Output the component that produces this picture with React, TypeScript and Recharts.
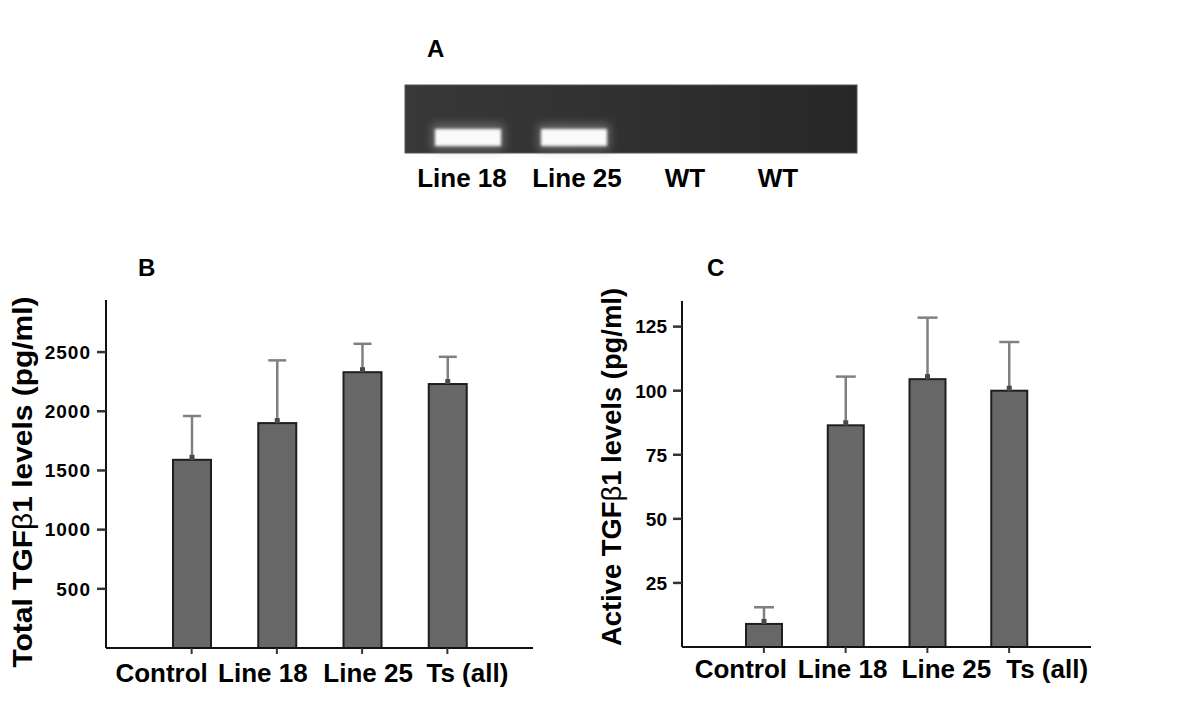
import { Bar, BarChart, XAxis, YAxis } from "recharts";

const FONT = '"Liberation Sans", Arial, Helvetica, sans-serif';

// groups shared by panels B and C
const groups = ["Control", "Line 18", "Line 25", "Ts (all)"];
const totalMean = [1590, 1900, 2330, 2230];
const totalSem = [370, 530, 240, 230];
const totalTicks = [500, 1000, 1500, 2000, 2500];
const activeMean = [9, 86.5, 104.5, 100];
const activeSem = [6.5, 19, 24, 19];
const activeTicks = [25, 50, 75, 100, 125];

// panel A gel
const gelLanes = ["Line 18", "Line 25", "WT", "WT"];
const gelSignal = [1, 1, 0, 0];

const totalData = groups.map((g, i) => ({ group: g, mean: totalMean[i], sem: totalSem[i] }));
const activeData = groups.map((g, i) => ({ group: g, mean: activeMean[i], sem: activeSem[i] }));

function BarWithError(props: any) {
  const { x, y, width, height, payload, capHalf } = props;
  const px = height / payload.mean;
  const top = y - payload.sem * px;
  const cx = x + width / 2;
  return (
    <g>
      <rect x={x} y={y} width={width} height={height} fill="#676767" stroke="#1e1e1e" strokeWidth={2} />
      <line x1={cx} x2={cx} y1={y} y2={top} stroke="#808080" strokeWidth={2.5} />
      <line x1={cx - capHalf} x2={cx + capHalf} y1={top} y2={top} stroke="#808080" strokeWidth={2.5} />
      <rect x={cx - 2.5} y={y - 5} width={5} height={5} fill="#4a4a4a" />
    </g>
  );
}

function XTick(props: any) {
  const { x, y, payload, index, shifts, dy } = props;
  return (
    <text x={x + shifts[index]} y={y + dy} textAnchor="middle" fontFamily={FONT} fontWeight="bold" fontSize={26} fill="#000">
      {payload.value}
    </text>
  );
}

function YTick(props: any) {
  const { x, y, payload, spacing, labelSize } = props;
  return (
    <text
      x={x}
      y={y}
      dy="0.36em"
      textAnchor="end"
      fill="#000"
      style={{ fontFamily: FONT, fontWeight: 700, fontSize: labelSize, letterSpacing: spacing }}
    >
      {payload.value}
    </text>
  );
}

function Panel(props: any) {
  const { data, domain, ticks, left, top, width, height, margin, yWidth, pad, barSize, capHalf, shifts, dy, spacing, tickFont } = props;
  return (
    <div style={{ position: "absolute", left, top }}>
      <BarChart width={width} height={height} data={data} margin={margin}>
        <XAxis
          dataKey="group"
          padding={pad}
          height={50}
          axisLine={{ stroke: "#111", strokeWidth: 2 }}
          tickLine={{ stroke: "#333", strokeWidth: 2 }}
          tickSize={6}
          tick={<XTick shifts={shifts} dy={dy} />}
          interval={0}
        />
        <XAxis xAxisId="top" orientation="top" dataKey="group" padding={pad} height={0} tick={false} tickLine={false} axisLine={{ stroke: "#444", strokeWidth: 1.5 }} />
        <YAxis
          domain={domain}
          ticks={ticks}
          width={yWidth}
          allowDataOverflow
          axisLine={{ stroke: "#111", strokeWidth: 2 }}
          tickLine={{ stroke: "#333", strokeWidth: 2.5 }}
          tickSize={9}
          tickMargin={6}
          tick={<YTick spacing={spacing} labelSize={tickFont} />}
        />
        <YAxis yAxisId="right" orientation="right" domain={domain} width={0} tick={false} tickLine={false} axisLine={{ stroke: "#8a8a8a", strokeWidth: 3 }} />
        <Bar dataKey="mean" barSize={barSize} isAnimationActive={false} shape={(p: any) => <BarWithError {...p} capHalf={capHalf} />} />
      </BarChart>
    </div>
  );
}

function Gel() {
  const laneX = [468, 574, 0, 0];
  return (
    <g>
      <defs>
        <linearGradient id="gelbg" x1="0" x2="1" y1="0" y2="0">
          <stop offset="0" stopColor="#383838" />
          <stop offset="0.5" stopColor="#303030" />
          <stop offset="1" stopColor="#272727" />
        </linearGradient>
        <filter id="soft" x="-30%" y="-80%" width="160%" height="260%">
          <feGaussianBlur stdDeviation="1.5" />
        </filter>
        <filter id="glow" x="-30%" y="-80%" width="160%" height="260%">
          <feGaussianBlur stdDeviation="5" />
        </filter>
      </defs>
      <rect x={405} y={85} width={452} height={68} fill="url(#gelbg)" stroke="#555" strokeWidth={1} />
      {gelSignal.map((s, i) =>
        s > 0 ? (
          <g key={i}>
            <rect x={laneX[i] - 36} y={124} width={72} height={26} fill="#8a8a8a" opacity={0.6 * s} filter="url(#glow)" />
            <rect x={laneX[i] - 33} y={129} width={66} height={17} fill="#fafafa" opacity={s} filter="url(#soft)" />
          </g>
        ) : null
      )}
    </g>
  );
}

export default function App() {
  const labelX = [462, 577, 685, 778];
  return (
    <div style={{ position: "absolute", left: 0, top: 0, width: 1200, height: 719, background: "#fff", fontFamily: FONT }}>
      <svg width={1200} height={719} style={{ position: "absolute", left: 0, top: 0 }}>
        <text x={427} y={57} fontFamily={FONT} fontWeight="bold" fontSize={24}>A</text>
        <Gel />
        {gelLanes.map((l, i) => (
          <text key={i} x={labelX[i]} y={187} textAnchor="middle" fontFamily={FONT} fontWeight="bold" fontSize={26}>{l}</text>
        ))}
        <text x={138} y={276} fontFamily={FONT} fontWeight="bold" fontSize={24}>B</text>
        <text x={707} y={276} fontFamily={FONT} fontWeight="bold" fontSize={24}>C</text>
        <text transform="translate(32,482) rotate(-90)" textAnchor="middle" fontFamily={FONT} fontWeight="bold" fontSize={28} textLength={371} lengthAdjust="spacingAndGlyphs">
          Total TGF<tspan fontWeight="normal">β</tspan>1 levels (pg/ml)
        </text>
        <text transform="translate(621,467) rotate(-90)" textAnchor="middle" fontFamily={FONT} fontWeight="bold" fontSize={28} textLength={358} lengthAdjust="spacingAndGlyphs">
          Active TGF<tspan fontWeight="normal">β</tspan>1 levels (pg/ml)
        </text>
      </svg>
      <Panel
        data={totalData}
        domain={[0, 2940]}
        ticks={totalTicks}
        left={0}
        top={0}
        width={560}
        height={719}
        margin={{ top: 300, right: 27, bottom: 21, left: 0 }}
        yWidth={106}
        pad={{ left: 43, right: 43 }}
        barSize={38}
        capHalf={9}
        shifts={[-30, -14, 6, 20]}
        dy={26}
        spacing={1}
        tickFont={19}
      />
      <Panel
        data={activeData}
        domain={[0, 135]}
        ticks={activeTicks}
        left={570}
        top={0}
        width={560}
        height={719}
        margin={{ top: 301, right: 39, bottom: 22, left: 0 }}
        yWidth={112}
        pad={{ left: 41, right: 41 }}
        barSize={36}
        capHalf={10}
        shifts={[-23, -3, 19, 38]}
        dy={23}
        spacing={0}
        tickFont={19}
      />
    </div>
  );
}
